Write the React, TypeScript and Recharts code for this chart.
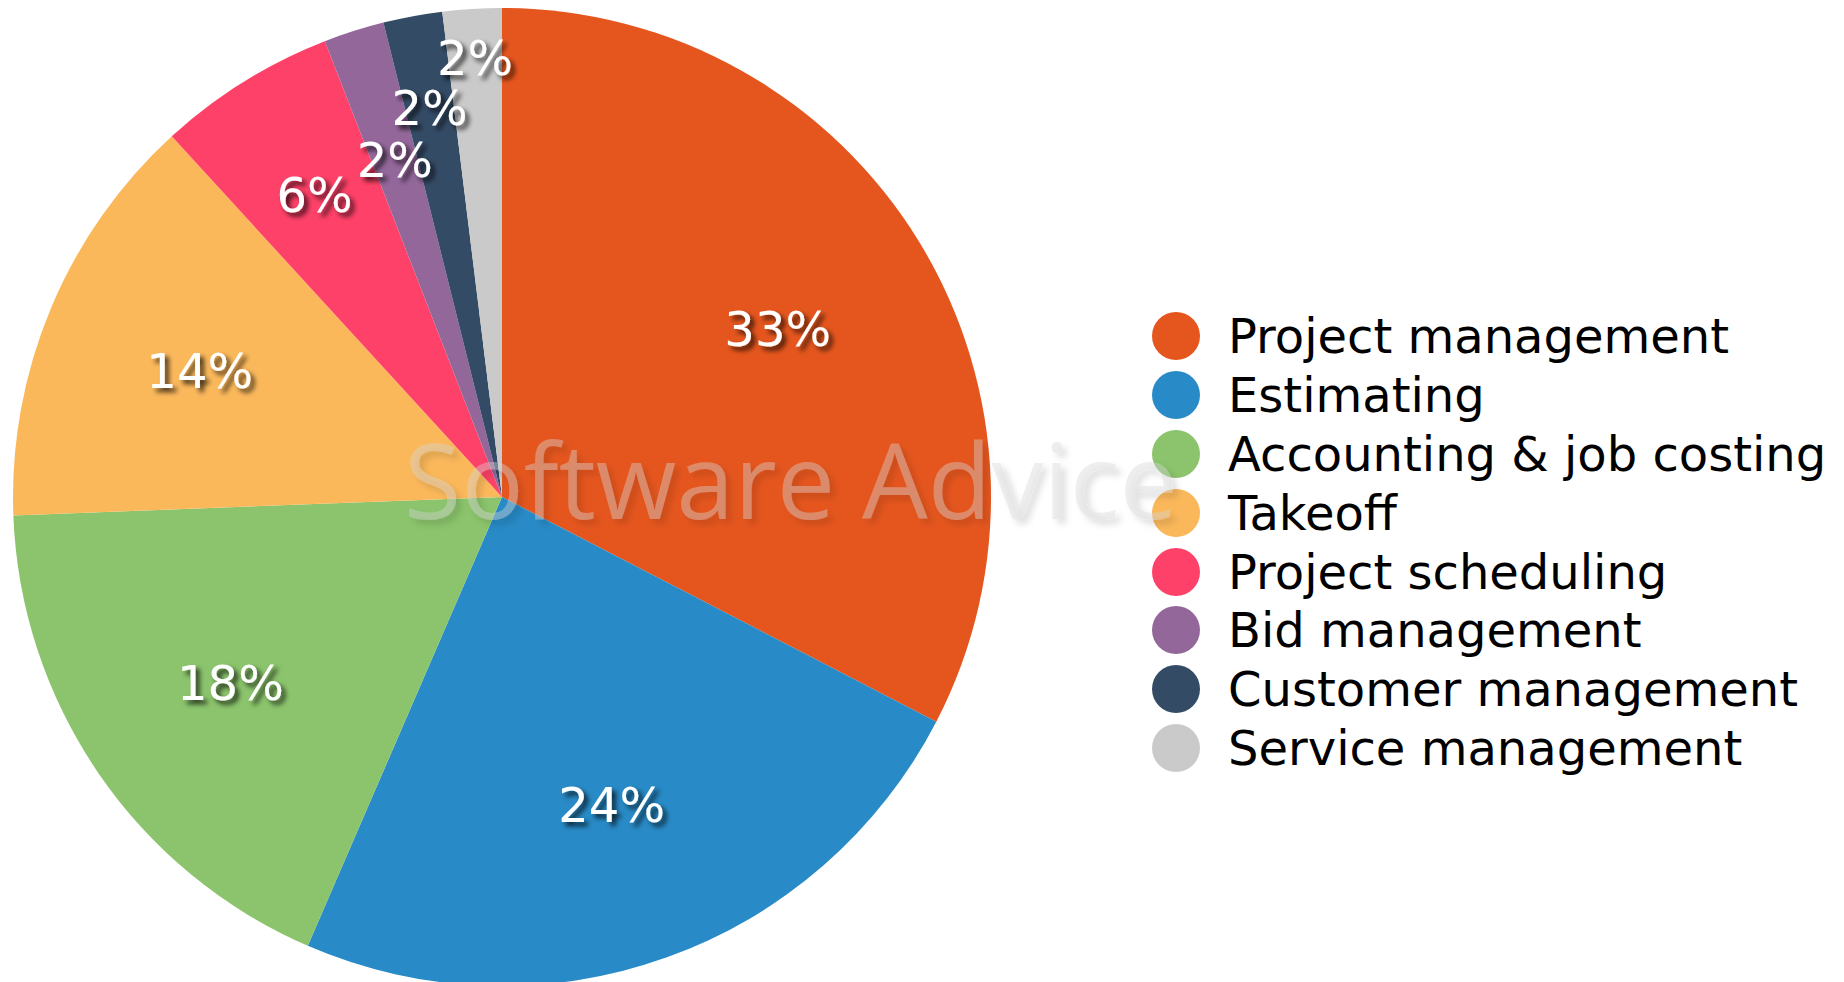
import { PieChart, Pie, Cell } from "recharts";

const CATEGORIES = [
  "Project management",
  "Estimating",
  "Accounting & job costing",
  "Takeoff",
  "Project scheduling",
  "Bid management",
  "Customer management",
  "Service management",
];
const SHARES = [32.6, 23.9, 17.9, 13.8, 5.9, 2.0, 1.95, 1.95];
const COLORS = ["#e5561e", "#288ac6", "#8bc46c", "#fbb85b", "#fe4168", "#93679a", "#344b66", "#cacaca"];

// how far out each label sits, as a fraction of the radius (small slices pushed out)
const LABEL_RADIUS = [0.66, 0.668, 0.673, 0.67, 0.726, 0.724, 0.81, 0.9];

const FONT = "'DejaVu Sans', Verdana, sans-serif";

const chartData = CATEGORIES.map((name, i) => ({ name, value: SHARES[i] }));

const RAD = Math.PI / 180;

function renderLabel(props: any) {
  const { cx, cy, midAngle, outerRadius, percent, index } = props;
  const r = outerRadius * LABEL_RADIUS[index];
  const x = cx + r * Math.cos(-midAngle * RAD);
  const y = cy + r * Math.sin(-midAngle * RAD);
  return (
    <text
      x={x}
      y={y}
      fill="#fff"
      fontSize={48}
      fontFamily={FONT}
      textAnchor="middle"
      dominantBaseline="central"
      filter="url(#labelShadow)"
    >
      {`${Math.round(percent * 100)}%`}
    </text>
  );
}

function ChartLegend() {
  return (
    <div style={{ position: "absolute", left: 1152, top: 307, fontFamily: FONT, fontSize: 48, color: "#000" }}>
      {CATEGORIES.map((name, i) => (
        <div key={`leg-${i}`} style={{ display: "flex", alignItems: "center", height: 58.8 }}>
          <span
            style={{
              display: "inline-block",
              width: 48,
              height: 48,
              borderRadius: "50%",
              background: COLORS[i],
              marginRight: 28,
              flexShrink: 0,
            }}
          />
          <span style={{ lineHeight: 1, whiteSpace: "nowrap" }}>{name}</span>
        </div>
      ))}
    </div>
  );
}

export default function App() {
  return (
    <div style={{ position: "absolute", left: 0, top: 0, width: 1844, height: 982, background: "#fff", overflow: "hidden" }}>
      <PieChart width={1844} height={982} margin={{ top: 0, right: 0, bottom: 0, left: 0 }}>
        <defs>
          <filter id="labelShadow" x="-20%" y="-20%" width="150%" height="160%">
            <feDropShadow dx="4" dy="4" stdDeviation="2.5" floodColor="#000" floodOpacity="0.75" />
          </filter>
        </defs>
        <Pie
          data={chartData}
          dataKey="value"
          nameKey="name"
          cx={502}
          cy={497}
          outerRadius={489}
          startAngle={90}
          endAngle={-270}
          stroke="none"
          labelLine={false}
          label={renderLabel}
          isAnimationActive={false}
        >
          {chartData.map((_, i) => (
            <Cell key={`cell-${i}`} fill={COLORS[i]} />
          ))}
        </Pie>
      </PieChart>
      <ChartLegend />
      {/* faint watermark laid over the pie */}
      <svg
        width={1844}
        height={982}
        style={{ position: "absolute", left: 0, top: 0, pointerEvents: "none" }}
      >
        <defs>
          <filter id="markShadow" x="-10%" y="-30%" width="130%" height="180%">
            <feDropShadow dx="5" dy="5" stdDeviation="3" floodColor="#000" floodOpacity="0.3" />
          </filter>
        </defs>
        <text
          x={791}
          y={478}
          textAnchor="middle"
          dominantBaseline="central"
          fontFamily="'Open Sans', sans-serif"
          fontSize={104}
          fill="#d6d6d6"
          fillOpacity={0.4}
          filter="url(#markShadow)"
        >
          Software Advice
        </text>
      </svg>
    </div>
  );
}
